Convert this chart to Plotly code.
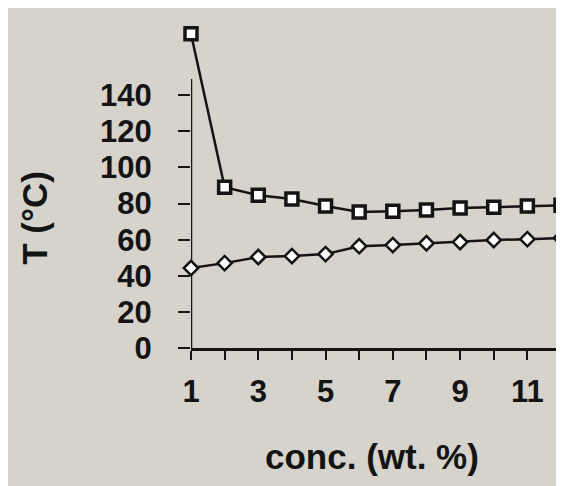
import plotly.graph_objects as go

conc = [1, 2, 3, 4, 5, 6, 7, 8, 9, 10, 11, 12]
t_upper = [174, 89, 84.6, 82.5, 78.6, 75.3, 75.8, 76.4, 77.5, 78, 78.6, 79]
t_lower = [44.3, 47, 50.4, 50.9, 52, 56.4, 57, 58, 58.7, 59.8, 60.3, 60.9]
y_ticks = [0, 20, 40, 60, 80, 100, 120, 140]
x_ticks = list(range(1, 13))
x_ticktext = [str(v) if v % 2 == 1 else "" for v in x_ticks]
y_axis_top = 149

BG = "#d6d3cd"
INK = "#141414"
FONT = "Liberation Sans"

fig = go.Figure()
fig.add_trace(go.Scatter(
    x=conc, y=t_upper, mode="lines+markers", cliponaxis=False,
    line=dict(color=INK, width=2.5),
    marker=dict(symbol="square", size=12, color="white", line=dict(color=INK, width=3.5)),
    showlegend=False))
fig.add_trace(go.Scatter(
    x=conc, y=t_lower, mode="lines+markers", cliponaxis=False,
    line=dict(color=INK, width=2.5),
    marker=dict(symbol="diamond", size=11, color="white", line=dict(color=INK, width=2.5)),
    showlegend=False))

fig.add_shape(type="line", xref="x", yref="y", x0=1, x1=1, y0=0, y1=y_axis_top,
              line=dict(color=INK, width=2.5), layer="below")

fig.update_layout(
    width=564, height=486,
    margin=dict(l=183, r=11, t=15, b=146),
    paper_bgcolor=BG, plot_bgcolor=BG,
    font=dict(family=FONT, color=INK),
    xaxis=dict(range=[1, 12], tickvals=x_ticks, ticktext=x_ticktext,
               showline=True, linecolor=INK, linewidth=3,
               ticks="outside", ticklen=9, tickwidth=2, tickcolor=INK,
               ticklabelstandoff=5,
               tickfont=dict(family=FONT, size=31, weight="bold", color=INK),
               showgrid=False, zeroline=False),
    yaxis=dict(range=[0, 180], tickvals=y_ticks,
               showline=False,
               ticks="outside", ticklen=12, tickwidth=2, tickcolor=INK,
               ticklabelstandoff=20,
               tickfont=dict(family=FONT, size=31, weight="bold", color=INK),
               showgrid=False, zeroline=False),
    annotations=[
        dict(text="T (°C)", xref="paper", yref="paper", x=-0.425, y=0.40,
             xanchor="center", yanchor="middle",
             textangle=-90, showarrow=False,
             font=dict(family=FONT, size=35, weight="bold", color=INK)),
        dict(text="conc. (wt. %)", xref="paper", yref="paper", x=0.49, y=-0.335,
             xanchor="center", yanchor="middle", showarrow=False,
             font=dict(family=FONT, size=35, weight="bold", color=INK)),
    ],
)

fig.write_html("out.html")
